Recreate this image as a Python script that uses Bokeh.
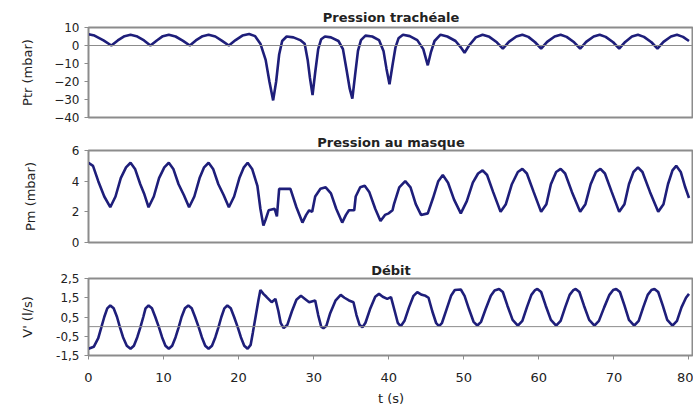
from bokeh.plotting import figure
from bokeh.layouts import column
from bokeh.models import FixedTicker, Span
from bokeh.embed import file_html
from bokeh.resources import INLINE

# ---------------- data ----------------
t_ptr = [0.0, 0.8, 2.0, 3.05, 3.9, 4.8, 5.6, 6.4, 7.4, 8.25, 9.1, 9.9, 10.7, 11.6, 12.6, 13.5,
         14.3, 15.2, 16.0, 16.9, 17.8, 18.7, 19.6, 20.5, 21.4, 22.2, 22.9, 23.6, 24.1, 24.6, 25.0,
         25.4, 25.8, 26.4, 27.3, 28.2, 28.8, 29.2, 29.5, 29.85, 30.2, 30.6, 31.0, 31.5, 32.3, 33.3,
         33.9, 34.4, 34.8, 35.15, 35.5, 35.9, 36.3, 36.9, 37.8, 38.7, 39.3, 39.7, 40.1, 40.5, 40.9,
         41.3, 41.9, 42.8, 43.8, 44.6, 45.2, 45.6, 46.1, 46.9, 47.8, 48.9, 49.6, 50.1, 50.7, 51.6,
         52.5, 53.4, 54.4, 55.2, 56.0, 57.0, 57.8, 58.6, 59.5, 60.3, 61.1, 62.1, 62.9, 63.7, 64.7,
         65.5, 66.3, 67.3, 68.1, 68.9, 69.9, 70.7, 71.5, 72.4, 73.2, 74.0, 75.0, 75.8, 76.6, 77.6,
         78.4, 79.2, 80.0]
v_ptr = [6.3, 5.5, 2.8, 0.0, 2.8, 5.2, 6.0, 5.2, 2.8, 0.0, 2.8, 5.2, 6.0, 5.0, 2.6, 0.0,
         2.8, 5.2, 6.0, 5.0, 2.6, 0.0, 3.0, 5.5, 6.4, 5.2, 1.0, -8.0, -20.0, -30.5, -20.0,
         -5.0, 2.5, 5.0, 4.5, 3.0, 1.0, -8.0, -18.0, -27.5, -15.0, -2.0, 3.5, 5.0, 4.5, 2.5,
         -2.0, -14.0, -24.0, -29.5, -17.0, -3.0, 3.0, 5.5, 5.0, 3.0, -3.0, -13.0, -21.5, -11.0, -1.0,
         4.0, 6.0, 5.2, 3.0, -2.0, -11.0, -4.0, 2.5, 6.0, 5.0, 2.5, -1.0, -4.0, 0.0, 4.5,
         6.0, 4.8, 1.8, -1.8, 2.0, 5.0, 6.0, 4.8, 1.8, -1.7, 2.0, 5.0, 6.0, 4.8, 1.8,
         -1.8, 2.0, 5.0, 6.0, 4.8, 1.8, -1.7, 2.0, 5.0, 6.0, 4.8, 1.8, -1.7, 2.0, 5.0,
         6.0, 4.8, 2.5]

t_pm = [0.0, 0.6, 1.3, 2.1, 2.9, 3.6, 4.3, 5.0, 5.6, 6.2, 6.9, 7.4, 8.0, 8.7, 9.4, 10.1, 10.7,
        11.3, 12.0, 12.7, 13.4, 14.1, 14.8, 15.4, 16.0, 16.6, 17.3, 18.0, 18.7, 19.4, 20.1, 20.7,
        21.2, 21.8, 22.5, 22.9, 23.3, 23.6, 24.0, 24.8, 25.1, 25.4, 26.9, 27.7, 28.5, 29.0, 29.4,
        29.8, 30.2, 30.9, 31.6, 32.3, 33.0, 33.8, 34.3, 34.7, 35.4, 35.6, 36.2, 36.8, 37.4, 38.2,
        38.9, 39.5, 40.0, 40.5, 40.7, 41.4, 42.2, 42.9, 43.6, 44.3, 45.2, 45.9, 46.6, 47.2, 47.9,
        48.7, 49.6, 50.4, 51.2, 51.9, 52.5, 53.1, 53.9, 54.9, 55.6, 56.4, 57.2, 57.8, 58.4, 59.3,
        60.3, 61.0, 61.6, 62.3, 62.9, 63.5, 64.4, 65.5, 66.2, 66.9, 67.6, 68.2, 68.8, 69.7, 70.7,
        71.4, 72.0, 72.6, 73.2, 73.8, 74.8, 75.9, 76.6, 77.2, 77.8, 78.3, 78.9, 79.5, 80.0]
v_pm = [5.2, 5.0, 4.0, 3.0, 2.3, 3.0, 4.2, 4.9, 5.2, 4.8, 3.8, 3.2, 2.3, 3.0, 4.2, 4.9, 5.2,
        4.8, 3.8, 3.1, 2.3, 3.0, 4.2, 4.9, 5.2, 4.8, 3.8, 3.1, 2.3, 3.0, 4.2, 4.9,
        5.2, 4.8, 3.7, 2.2, 1.1, 1.5, 2.1, 2.2, 1.7, 3.5, 3.5, 2.3, 1.3, 1.8, 2.1,
        2.0, 3.0, 3.5, 3.6, 3.2, 2.2, 1.3, 1.8, 2.1, 2.1, 3.0, 3.6, 3.7, 3.3, 2.2,
        1.4, 1.8, 1.9, 2.1, 2.5, 3.6, 4.0, 3.6, 2.5, 1.8, 1.9, 2.9, 4.0, 4.4, 3.9,
        2.8, 1.9, 2.7, 3.9, 4.5, 4.7, 4.4, 3.3, 2.0, 2.5, 3.8, 4.6, 4.8, 4.5, 3.3,
        2.0, 2.5, 3.8, 4.6, 4.8, 4.5, 3.3, 2.0, 2.5, 3.8, 4.6, 4.8, 4.5, 3.3, 2.0,
        2.5, 3.8, 4.6, 4.9, 4.6, 3.3, 2.0, 2.5, 3.8, 4.7, 5.0, 4.6, 3.6, 2.9]

t_deb = [0.0, 0.7, 1.3, 1.7, 2.1, 2.5, 2.9, 3.35, 3.8, 4.2, 4.6, 5.1, 5.6, 6.05, 6.5, 6.9, 7.3,
         7.6, 8.0, 8.45, 8.9, 9.4, 9.8, 10.25, 10.7, 11.15, 11.6, 12.0, 12.4, 12.85, 13.3, 13.75,
         14.2, 14.7, 15.1, 15.55, 16.0, 16.45, 16.9, 17.3, 17.7, 18.1, 18.5, 18.95, 19.4, 19.9,
         20.3, 20.75, 21.2, 21.6, 21.9, 22.3, 22.65, 22.9, 23.3, 23.7, 24.4, 24.9, 25.3, 25.6,
         26.0, 26.5, 27.1, 27.7, 28.3, 28.8, 29.4, 30.2, 30.6, 31.0, 31.3, 31.7, 32.2, 32.9, 33.6,
         34.1, 34.7, 35.3, 35.7, 36.1, 36.5, 36.9, 37.5, 38.2, 38.7, 39.2, 39.8, 40.3, 40.8, 41.2,
         41.6, 42.1, 42.7, 43.3, 43.8, 44.4, 44.9, 45.3, 45.8, 46.3, 46.7, 47.1, 47.7, 48.3, 48.8,
         49.6, 50.1, 50.7, 51.3, 51.8, 52.3, 52.9, 53.6, 54.1, 54.7, 55.2, 55.8, 56.5, 57.2, 57.8,
         58.4, 59.0, 59.5, 59.8, 60.3, 60.9, 61.6, 62.3, 62.9, 63.5, 64.1, 64.6, 64.9, 65.4, 66.0,
         66.7, 67.4, 68.0, 68.7, 69.4, 69.9, 70.3, 70.8, 71.4, 72.0, 72.7, 73.3, 73.9, 74.5, 75.0,
         75.4, 75.9, 76.5, 77.1, 77.8, 78.4, 79.0, 79.6, 80.0]
v_deb = [-1.15, -1.05, -0.6, -0.05, 0.5, 0.95, 1.1, 0.95, 0.5, -0.05, -0.55, -0.99, -1.15, -0.99, -0.55, -0.05, 0.5,
         0.95, 1.1, 0.95, 0.5, -0.05, -0.55, -0.99, -1.15, -0.99, -0.55, -0.05, 0.5, 0.95, 1.1, 0.95,
         0.5, -0.05, -0.55, -0.99, -1.15, -0.99, -0.55, -0.05, 0.5, 0.95, 1.1, 0.95, 0.5, -0.05,
         -0.55, -0.99, -1.15, -0.95, -0.3, 0.6, 1.4, 1.9, 1.7, 1.55, 1.27, 1.44, 0.8, 0.2,
         -0.08, 0.1, 0.8, 1.4, 1.6, 1.45, 1.27, 1.36, 0.6, 0.0, -0.08, 0.05, 0.7, 1.35, 1.65,
         1.5, 1.36, 1.27, 0.6, 0.1, -0.03, 0.2, 0.9, 1.55, 1.7, 1.55, 1.44, 1.53, 0.8, 0.2,
         0.02, 0.3, 1.0, 1.6, 1.79, 1.65, 1.6, 1.5, 0.8, 0.2, 0.02, 0.2, 0.9, 1.6, 1.9,
         1.93, 1.6, 0.9, 0.25, 0.06, 0.25, 0.9, 1.6, 1.88, 1.96, 1.8, 1.1, 0.35, 0.05, 0.3,
         1.0, 1.65, 1.9, 1.96, 1.8, 1.1, 0.35, 0.05, 0.3, 1.0, 1.65, 1.9, 1.96, 1.8, 1.1,
         0.35, 0.05, 0.3, 1.0, 1.65, 1.9, 1.96, 1.8, 1.1, 0.35, 0.05, 0.3, 1.0, 1.65, 1.9,
         1.96, 1.8, 1.1, 0.35, 0.05, 0.3, 1.0, 1.5, 1.7]

titles = ["Pression trachéale", "Pression au masque", "Débit"]
ylabels = ["Ptr (mbar)", "Pm (mbar)", "V' (l/s)"]
yticks_ptr = [-40, -30, -20, -10, 0, 10]
yticks_pm = [0, 2, 4, 6]
yticks_deb = [-1.5, -0.5, 0.5, 1.5, 2.5]
ylabels_deb = ["-1,5", "-0,5", "0,5", "1,5", "2,5"]
xticks = [0, 10, 20, 30, 40, 50, 60, 70, 80]
xlabel = "t (s)"

LINE = "#1e1e7a"
FONT = "DejaVu Sans"
GRID = "#8c8c8c"
TXT = "#222222"


def make(title, ylabel, yr, fh, top, bottom, tstand, ylstand):
    p = figure(frame_width=605, frame_height=fh, x_range=(0, 80.6), y_range=yr,
               output_backend="svg", toolbar_location=None,
               min_border_left=88, min_border_right=0,
               min_border_top=top, min_border_bottom=bottom)
    p.title.text = title
    p.title.align = "center"
    p.title.text_font = FONT
    p.title.text_font_style = "bold"
    p.title.text_font_size = "13px"
    p.title.text_color = TXT
    p.title.standoff = tstand
    p.xgrid.visible = False
    p.ygrid.visible = False
    p.outline_line_color = GRID
    p.outline_line_width = 2
    p.background_fill_color = "white"
    p.border_fill_color = "white"
    ax = p.yaxis[0]
    ax.axis_label = ylabel
    ax.axis_label_text_font = FONT
    ax.axis_label_text_font_size = "13px"
    ax.axis_label_text_font_style = "normal"
    ax.axis_label_text_color = TXT
    ax.axis_label_standoff = ylstand
    ax.major_label_text_font = FONT
    ax.major_label_text_font_size = "12px"
    ax.major_label_text_color = TXT
    ax.major_label_standoff = 5
    ax.major_tick_out = 4
    ax.major_tick_in = 0
    ax.minor_tick_out = 0
    ax.minor_tick_in = 0
    ax.axis_line_color = GRID
    ax.major_tick_line_color = GRID
    return p


p1 = make(titles[0], ylabels[0], (-40, 10), 90, 27, 8, 5, 16)
p1.yaxis[0].ticker = FixedTicker(ticks=yticks_ptr)
p1.xaxis.visible = False
p1.add_layout(Span(location=0, dimension="width", line_color=GRID, line_width=1))
p1.line(t_ptr, v_ptr, line_color=LINE, line_width=2.6)

p2 = make(titles[1], ylabels[1], (0, 6), 92, 25, 8, 2, 31)
p2.yaxis[0].ticker = FixedTicker(ticks=yticks_pm)
p2.xaxis.visible = False
p2.line(t_pm, v_pm, line_color=LINE, line_width=2.6)

p3 = make(titles[2], ylabels[2], (-1.5, 2.5), 77, 28, 53, 2, 18)
p3.yaxis[0].ticker = FixedTicker(ticks=yticks_deb)
p3.yaxis[0].major_label_overrides = {t: s for t, s in zip(yticks_deb, ylabels_deb)}
p3.add_layout(Span(location=0, dimension="width", line_color=GRID, line_width=1))
xa = p3.xaxis[0]
xa.ticker = FixedTicker(ticks=xticks)
xa.axis_label = xlabel
xa.axis_label_text_font = FONT
xa.axis_label_text_font_size = "13px"
xa.axis_label_text_font_style = "normal"
xa.axis_label_text_color = TXT
xa.axis_label_standoff = 6
xa.major_label_text_font = FONT
xa.major_label_text_font_size = "13px"
xa.major_label_text_color = TXT
xa.major_label_standoff = 13
xa.major_tick_out = 4
xa.major_tick_in = 0
xa.minor_tick_out = 0
xa.minor_tick_in = 0
xa.axis_line_color = GRID
xa.major_tick_line_color = GRID
p3.line(t_deb, v_deb, line_color=LINE, line_width=2.6)

layout = column(p1, p2, p3, spacing=0)
open("out.html", "w").write(file_html(layout, INLINE))
